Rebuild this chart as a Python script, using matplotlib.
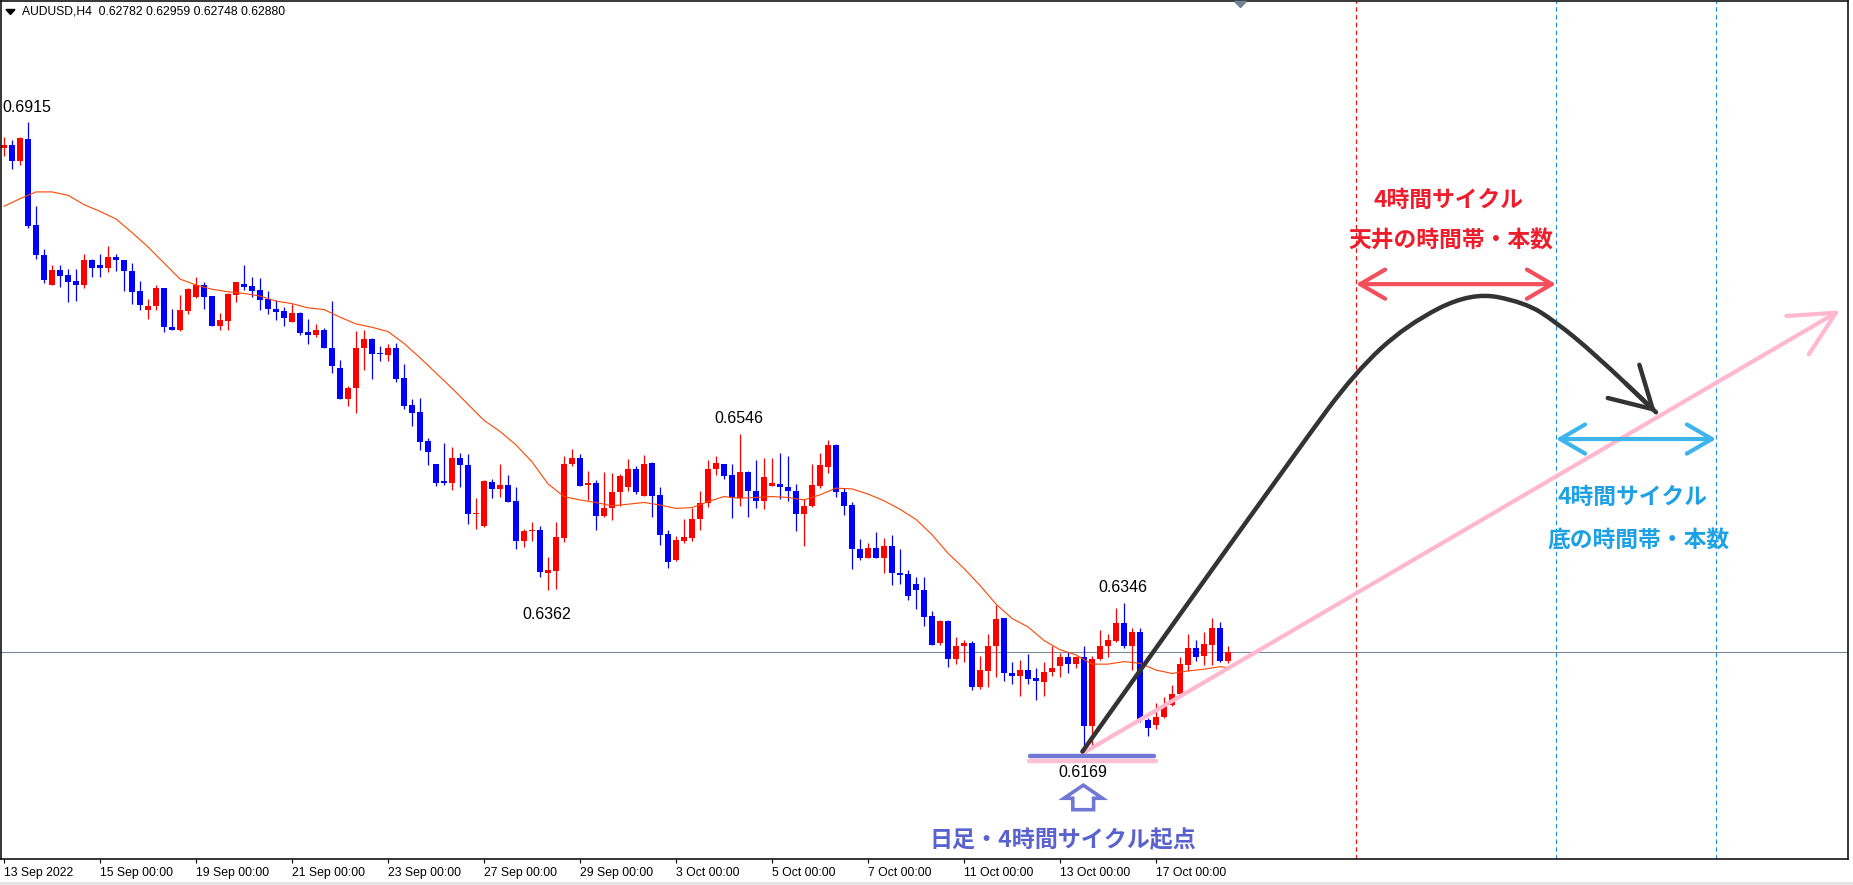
import numpy as np
import matplotlib
matplotlib.use("Agg")
import matplotlib.pyplot as plt
from matplotlib.patches import FancyArrowPatch, Polygon, PathPatch, Rectangle, ArrowStyle
from matplotlib.path import Path

plt.rcParams['font.family'] = ['Liberation Sans', 'DejaVu Sans']

W, H = 1853, 885

# ---------------- data (AUDUSD H4) ----------------
opens = [0.6884, 0.6887, 0.6869, 0.6895, 0.6793, 0.6757, 0.6722, 0.6740, 0.6734, 0.6727,
         0.6722, 0.6752, 0.6746, 0.6742, 0.6755, 0.6752, 0.6739, 0.6715, 0.6692, 0.6697,
         0.6718, 0.6672, 0.6669, 0.6691, 0.6708, 0.6722, 0.6709, 0.6674, 0.6680, 0.6710,
         0.6723, 0.6721, 0.6716, 0.6705, 0.6694, 0.6691, 0.6678, 0.6689, 0.6667, 0.6663,
         0.6669, 0.6648, 0.6624, 0.6587, 0.6600, 0.6648, 0.6658, 0.6642, 0.6639, 0.6648,
         0.6612, 0.6580, 0.6572, 0.6538, 0.6511, 0.6490, 0.6488, 0.6518, 0.6509, 0.6451,
         0.6437, 0.6489, 0.6481, 0.6486, 0.6467, 0.6420, 0.6431, 0.6432, 0.6382, 0.6384,
         0.6423, 0.6510, 0.6518, 0.6486, 0.6488, 0.6449, 0.6459, 0.6477, 0.6483, 0.6504,
         0.6473, 0.6512, 0.6474, 0.6428, 0.6397, 0.6419, 0.6423, 0.6446, 0.6464, 0.6505,
         0.6511, 0.6498, 0.6470, 0.6501, 0.6479, 0.6467, 0.6484, 0.6487, 0.6483, 0.6479,
         0.6451, 0.6461, 0.6484, 0.6507, 0.6533, 0.6477, 0.6462, 0.6410, 0.6399, 0.6411,
         0.6400, 0.6414, 0.6382, 0.6380, 0.6369, 0.6362, 0.6331, 0.6299, 0.6325, 0.6280,
         0.6295, 0.6299, 0.6247, 0.6266, 0.6296, 0.6328, 0.6263, 0.6260, 0.6267, 0.6258,
         0.6253, 0.6265, 0.6272, 0.6283, 0.6274, 0.6282, 0.6201, 0.6280, 0.6295, 0.6301,
         0.6323, 0.6295, 0.6312, 0.6208, 0.6202, 0.6211, 0.6226, 0.6239, 0.6273, 0.6293,
         0.6284, 0.6297, 0.6317, 0.62782]
highs = [0.6897, 0.6893, 0.6897, 0.6915, 0.6815, 0.6765, 0.6746, 0.6746, 0.6741, 0.6741,
         0.6759, 0.6753, 0.6759, 0.6768, 0.6759, 0.6752, 0.6748, 0.6727, 0.6705, 0.6722,
         0.6718, 0.6694, 0.6710, 0.6719, 0.6732, 0.6726, 0.6709, 0.6689, 0.6713, 0.6726,
         0.6746, 0.6732, 0.6730, 0.6715, 0.6704, 0.6696, 0.6700, 0.6690, 0.6682, 0.6676,
         0.6671, 0.6703, 0.6633, 0.6603, 0.6668, 0.6669, 0.6659, 0.6650, 0.6652, 0.6653,
         0.6629, 0.6587, 0.6588, 0.6541, 0.6511, 0.6535, 0.6531, 0.6523, 0.6522, 0.6470,
         0.6492, 0.6493, 0.6511, 0.6498, 0.6483, 0.6434, 0.6442, 0.6437, 0.6401, 0.6442,
         0.6520, 0.6528, 0.6522, 0.6502, 0.6492, 0.6501, 0.6500, 0.6499, 0.6516, 0.6508,
         0.6521, 0.6513, 0.6483, 0.6432, 0.6425, 0.6446, 0.6459, 0.6478, 0.6515, 0.6520,
         0.6511, 0.6511, 0.6546, 0.6502, 0.6515, 0.6517, 0.6517, 0.6523, 0.6520, 0.6487,
         0.6469, 0.6510, 0.6523, 0.6539, 0.6534, 0.6482, 0.6466, 0.6422, 0.6417, 0.6430,
         0.6423, 0.6427, 0.6410, 0.6385, 0.6377, 0.6377, 0.6337, 0.6326, 0.6326, 0.6306,
         0.6303, 0.6301, 0.6284, 0.6310, 0.6344, 0.6329, 0.6276, 0.6279, 0.6286, 0.6269,
         0.6277, 0.6295, 0.6287, 0.6288, 0.6284, 0.6296, 0.6284, 0.6314, 0.6310, 0.6340,
         0.6346, 0.6317, 0.6317, 0.6210, 0.6228, 0.6235, 0.6249, 0.6283, 0.6310, 0.6302,
         0.6312, 0.6328, 0.6324, 0.62959]
lows = [0.6874, 0.6859, 0.6864, 0.6789, 0.6753, 0.6724, 0.6722, 0.6720, 0.6702, 0.6703,
        0.6719, 0.6731, 0.6732, 0.6737, 0.6738, 0.6715, 0.6700, 0.6692, 0.6682, 0.6692,
        0.6667, 0.6669, 0.6668, 0.6688, 0.6707, 0.6694, 0.6673, 0.6669, 0.6669, 0.6702,
        0.6716, 0.6708, 0.6692, 0.6688, 0.6681, 0.6674, 0.6678, 0.6663, 0.6652, 0.6660,
        0.6647, 0.6618, 0.6587, 0.6579, 0.6571, 0.6622, 0.6611, 0.6632, 0.6632, 0.6607,
        0.6576, 0.6555, 0.6527, 0.6509, 0.6484, 0.6486, 0.6480, 0.6483, 0.6440, 0.6434,
        0.6436, 0.6470, 0.6472, 0.6466, 0.6410, 0.6412, 0.6420, 0.6377, 0.6362, 0.6363,
        0.6418, 0.6508, 0.6485, 0.6468, 0.6432, 0.6448, 0.6444, 0.6461, 0.6479, 0.6475,
        0.6473, 0.6448, 0.6415, 0.6388, 0.6396, 0.6417, 0.6420, 0.6432, 0.6460, 0.6498,
        0.6493, 0.6447, 0.6461, 0.6448, 0.6459, 0.6457, 0.6484, 0.6469, 0.6467, 0.6431,
        0.6414, 0.6460, 0.6482, 0.6500, 0.6472, 0.6450, 0.6386, 0.6397, 0.6399, 0.6399,
        0.6382, 0.6367, 0.6369, 0.6350, 0.6339, 0.6319, 0.6297, 0.6297, 0.6271, 0.6274,
        0.6277, 0.6244, 0.6245, 0.6247, 0.6259, 0.6254, 0.6251, 0.6236, 0.6251, 0.6232,
        0.6236, 0.6260, 0.6259, 0.6264, 0.6269, 0.6169, 0.6174, 0.6279, 0.6283, 0.6300,
        0.6293, 0.6267, 0.6206, 0.6189, 0.6197, 0.6210, 0.6225, 0.6238, 0.6266, 0.6278,
        0.6273, 0.6273, 0.6276, 0.62748]
closes = [0.6887, 0.6869, 0.6896, 0.6792, 0.6757, 0.6728, 0.6740, 0.6733, 0.6726, 0.6722,
          0.6752, 0.6742, 0.6742, 0.6755, 0.6751, 0.6738, 0.6714, 0.6698, 0.6697, 0.6718,
          0.6672, 0.6669, 0.6692, 0.6717, 0.6722, 0.6708, 0.6674, 0.6681, 0.6711, 0.6725,
          0.6720, 0.6715, 0.6704, 0.6694, 0.6690, 0.6683, 0.6689, 0.6665, 0.6663, 0.6669,
          0.6648, 0.6626, 0.6587, 0.6600, 0.6648, 0.6658, 0.6641, 0.6640, 0.6648, 0.6611,
          0.6579, 0.6571, 0.6537, 0.6525, 0.6488, 0.6488, 0.6518, 0.6509, 0.6451, 0.6453,
          0.6490, 0.6481, 0.6486, 0.6466, 0.6420, 0.6431, 0.6432, 0.6383, 0.6385, 0.6424,
          0.6511, 0.6518, 0.6485, 0.6488, 0.6449, 0.6459, 0.6477, 0.6496, 0.6504, 0.6477,
          0.6510, 0.6473, 0.6427, 0.6395, 0.6421, 0.6424, 0.6446, 0.6464, 0.6505, 0.6512,
          0.6496, 0.6470, 0.6501, 0.6479, 0.6467, 0.6495, 0.6488, 0.6483, 0.6479, 0.6451,
          0.6461, 0.6486, 0.6509, 0.6533, 0.6477, 0.6461, 0.6410, 0.6399, 0.6411, 0.6400,
          0.6414, 0.6382, 0.6379, 0.6354, 0.6362, 0.6330, 0.6297, 0.6325, 0.6280, 0.6296,
          0.6299, 0.6247, 0.6267, 0.6296, 0.6327, 0.6263, 0.6260, 0.6267, 0.6257, 0.6254,
          0.6265, 0.6270, 0.6283, 0.6274, 0.6282, 0.6201, 0.6280, 0.6295, 0.6302, 0.6323,
          0.6295, 0.6312, 0.6208, 0.6198, 0.6212, 0.6226, 0.6239, 0.6274, 0.6293, 0.6283,
          0.6298, 0.6317, 0.6278, 0.62880]

ma_idx = list(range(0, 153, 2)) + [153]
ma_vals = [0.6815, 0.6824, 0.6832, 0.6832, 0.6828, 0.6817, 0.6809, 0.6800, 0.6784, 0.6767,
           0.6748, 0.6729, 0.6722, 0.6717, 0.6714, 0.6712, 0.6709, 0.6703, 0.6700, 0.6695,
           0.6693, 0.6684, 0.6676, 0.6672, 0.6667, 0.6653, 0.6636, 0.6618, 0.6600, 0.6581,
           0.6562, 0.6549, 0.6533, 0.6513, 0.6487, 0.6472, 0.6468, 0.6465, 0.6461, 0.6463,
           0.6465, 0.6462, 0.6458, 0.6459, 0.6466, 0.6472, 0.6470, 0.6471, 0.6472, 0.6471,
           0.6468, 0.6474, 0.6482, 0.6481, 0.6475, 0.6467, 0.6457, 0.6445, 0.6427, 0.6405,
           0.6387, 0.6367, 0.6345, 0.6328, 0.6318, 0.6302, 0.6291, 0.6285, 0.6274, 0.6274,
           0.6277, 0.6275, 0.6267, 0.6263, 0.6266, 0.6268, 0.6271, 0.6270]

tick_idx = [0, 12, 24, 36, 48, 60, 72, 84, 96, 108, 120, 132, 144]
tick_labels = ["13 Sep 2022", "15 Sep 00:00", "19 Sep 00:00", "21 Sep 00:00", "23 Sep 00:00",
               "27 Sep 00:00", "29 Sep 00:00", "3 Oct 00:00", "5 Oct 00:00", "7 Oct 00:00",
               "11 Oct 00:00", "13 Oct 00:00", "17 Oct 00:00"]

header_text = "AUDUSD,H4  0.62782 0.62959 0.62748 0.62880"
current_price = 0.62880

price_label_text = ["0.6915", "0.6546", "0.6362", "0.6346", "0.6169"]
price_label_x = [-0.25, 91.9, 67.9, 139.9, 134.8]
price_label_y = [0.69323, 0.65648, 0.63332, 0.63651, 0.61454]
price_label_ha = ["left", "center", "center", "center", "center"]

# annotations (bar index, price)
red_vline = 169
blue_vlines = [194, 214]
top_arrow_y = 0.6723
bottom_arrow_y = 0.6540
curve_x = [134.8, 147.2, 162.0, 168.9, 175.3, 183.4, 190.1, 193.9, 198.9, 206.5]
curve_y = [0.61707, 0.63354, 0.65310, 0.66189, 0.66748, 0.67139, 0.67014, 0.66790, 0.66400, 0.65716]
pink_x = [134.9, 229.5]
pink_y = [0.6169, 0.6692]
base_blue = ([128.25, 143.75], 0.61655)
base_pink = ([128.1, 144.0], 0.61600)
up_arrow_x = [134.91, 137.3, 136.2, 136.2, 133.6, 133.6, 132.5]
up_arrow_y = [0.61310, 0.61155, 0.61155, 0.61020, 0.61020, 0.61155, 0.61155]

# ---------------- figure ----------------
fig = plt.figure(figsize=(W / 100, H / 100), dpi=100)
fig.patch.set_facecolor('white')
ax_left, ax_right, ax_top, ax_bot = 1, 1848, 1.3, 859
ax = fig.add_axes([ax_left / W, (H - ax_bot) / H, (ax_right - ax_left) / W, (ax_bot - ax_top) / H])

px_per_bar = 8.0
px_per_price = 8463.0
x0_px = 4.0
def bar_at(px):
    return (px - x0_px) / px_per_bar
def price_at(py):
    return 0.6169 + (753 - py) / px_per_price

ax.set_xlim(bar_at(ax_left), bar_at(ax_right))
ax.set_ylim(price_at(ax_bot), price_at(ax_top))

o = np.array(opens); h = np.array(highs); l = np.array(lows); c = np.array(closes)
idx = np.arange(len(o))
cols = np.where(c >= o, '#FF0000', '#0000FF')

ax.vlines(idx, l, h, colors=cols, linewidth=0.9, zorder=2)
body_lo = np.minimum(o, c)
body_h = np.maximum(np.abs(c - o), 1.2 / px_per_price)
ax.bar(idx, body_h, bottom=body_lo, width=0.66, color=cols, linewidth=0, zorder=2)

ax.plot(ma_idx, ma_vals, color='#FF4500', linewidth=0.8, zorder=3)

ax.axhline(current_price, color='#7A8896', linewidth=0.8, zorder=1)

# vertical dotted lines
ax.axvline(red_vline, color='#FF0000', linewidth=0.8, linestyle=(0, (4, 3)), zorder=1)
for bx in blue_vlines:
    ax.axvline(bx, color='#1E88E5', linewidth=0.8, linestyle=(0, (4, 3)), zorder=1)

# price labels
for t, xx, yy, ha in zip(price_label_text, price_label_x, price_label_y, price_label_ha):
    ax.text(xx, yy, t, fontsize=11.5, ha=ha, va='center', color='black', zorder=6)

# double arrows
def dbl_arrow(x1, x2, y, color):
    a = FancyArrowPatch((x1, y), (x2, y),
                        arrowstyle=ArrowStyle('<->', head_length=18, head_width=10.5),
                        mutation_scale=1, color=color, linewidth=3.0, shrinkA=0, shrinkB=0,
                        capstyle='round', joinstyle='round', zorder=5)
    ax.add_patch(a)

dbl_arrow(red_vline, blue_vlines[0], top_arrow_y, '#F2505C')
dbl_arrow(blue_vlines[0], blue_vlines[1], bottom_arrow_y, '#3DB4EC')

# pink trend arrow
pink = FancyArrowPatch((pink_x[0], pink_y[0]), (pink_x[1], pink_y[1]),
                       arrowstyle=ArrowStyle('->', head_length=32, head_width=16),
                       mutation_scale=1, color='#FFB8CF', linewidth=3.0, shrinkA=0, shrinkB=0,
                       capstyle='round', joinstyle='round', zorder=4)
ax.add_patch(pink)

# black forecast curve (smooth path through the read points)
pts = np.column_stack([curve_x, curve_y])
verts = [pts[0], pts[1]]
codes = [Path.MOVETO, Path.LINETO]
for i in range(2, len(pts) - 1):
    mid = (pts[i] + pts[i + 1]) / 2
    verts += [pts[i], mid]
    codes += [Path.CURVE3, Path.CURVE3]
verts.append(pts[-1])
codes.append(Path.LINETO)
curve = PathPatch(Path(verts, codes), fill=False, edgecolor='#333333', linewidth=3.2,
                  capstyle='round', joinstyle='round', zorder=5)
ax.add_patch(curve)
head_start = (pts[-2] + pts[-1]) / 2
blk = FancyArrowPatch(tuple(head_start), tuple(pts[-1]),
                      arrowstyle=ArrowStyle('->', head_length=29, head_width=16.5),
                      mutation_scale=1, color='#333333', linewidth=3.2, shrinkA=0, shrinkB=0,
                      capstyle='round', joinstyle='round', zorder=5)
ax.add_patch(blk)

# base lines at the low
ax.plot(base_pink[0], [base_pink[1]] * 2, color='#FFC0D4', linewidth=3.2,
        solid_capstyle='round', zorder=4)
ax.plot(base_blue[0], [base_blue[1]] * 2, color='#7078D6', linewidth=3.2,
        solid_capstyle='round', zorder=4)

# hollow up arrow
ax.add_patch(Polygon(np.column_stack([up_arrow_x, up_arrow_y]), closed=True, fill=False,
                     edgecolor='#7078D6', linewidth=2.6, joinstyle='miter', zorder=5))

# Japanese annotations
jp = ['Noto Sans CJK JP', 'DejaVu Sans']
ax.text(180.5, 0.68213, "4時間サイクル", family=jp, fontsize=16.4, fontweight='bold',
        color='#EE1D2B', ha='center', va='center', zorder=6)
ax.text(180.9, 0.67752, "天井の時間帯・本数", family=jp, fontsize=16.4, fontweight='bold',
        color='#EE1D2B', ha='center', va='center', zorder=6)
ax.text(203.5, 0.64715, "4時間サイクル", family=jp, fontsize=16.4, fontweight='bold',
        color='#1DA1E5', ha='center', va='center', zorder=6)
ax.text(204.3, 0.64195, "底の時間帯・本数", family=jp, fontsize=16.4, fontweight='bold',
        color='#1DA1E5', ha='center', va='center', zorder=6)
ax.text(132.4, 0.60650, "日足・4時間サイクル起点", family=jp, fontsize=16.6, fontweight='bold',
        color='#5962CF', ha='center', va='center', zorder=6)

# axes styling
for sp in ax.spines.values():
    sp.set_color('black')
    sp.set_linewidth(1.1)
ax.set_yticks([])
ax.set_xticks(tick_idx)
ax.set_xticklabels(tick_labels, ha='left', fontsize=8.8)
ax.tick_params(axis='x', direction='out', length=3, width=0.8, pad=2.5, colors='black')

# header
def fx(px):
    return px / W
def fy(py):
    return 1 - py / H

fig.text(fx(22), fy(12), header_text, fontsize=8.7, ha='left', va='center', color='black')
fig.patches.append(Polygon([[fx(6), fy(9.5)], [fx(15), fy(9.5)], [fx(10.5), fy(14.5)]],
                           closed=True, transform=fig.transFigure, color='black'))
fig.patches.append(Polygon([[fx(1234.5), fy(1.5)], [fx(1246.5), fy(1.5)], [fx(1240.5), fy(7.5)]],
                           closed=True, transform=fig.transFigure, color='#6F8494', zorder=10))
fig.patches.append(Rectangle((0, 0), 1, 3.5 / H, transform=fig.transFigure,
                             color='#E6E6E6', linewidth=0))

fig.savefig('out.png', dpi=100, facecolor='white')
